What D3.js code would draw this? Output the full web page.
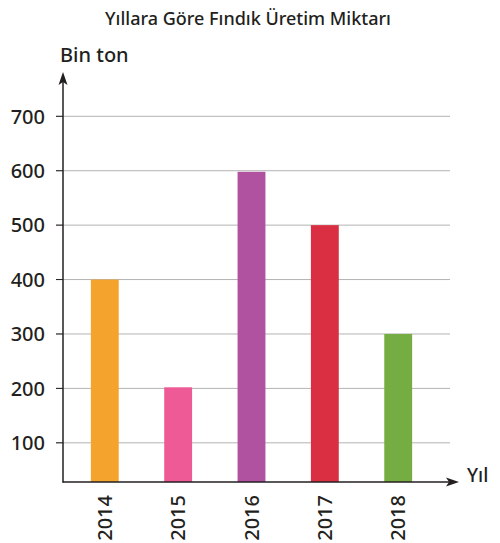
<!DOCTYPE html>
<html>
<head>
<meta charset="utf-8">
<script src="https://cdn.jsdelivr.net/npm/d3@7"></script>
<style>
  body { margin: 0; background: #fff; }
  svg text { font-family: "Noto Sans", sans-serif; fill: #231f20; }
</style>
</head>
<body>
<div class="chart"></div>
<script>
// data
const years = ["2014", "2015", "2016", "2017", "2018"];
const production = [400, 202, 598, 500, 300];
const barColors = ["#f4a42c", "#ee5a95", "#b052a0", "#da2f42", "#76ad43"];
const yTicks = [100, 200, 300, 400, 500, 600, 700];

const width = 500, height = 543;

const svg = d3.select(".chart")
    .append("svg")
    .attr("width", width)
    .attr("height", height);

// axis base sits a little above zero, like the original
const xScale = d3.scaleBand()
    .domain(years)
    .range([63, 440])
    .paddingInner(0.62)
    .paddingOuter(0.38);

const yScale = d3.scaleLinear()
    .domain([28, 700])
    .range([482, 116.3]);

const axisX0 = 63, axisY0 = yScale.range()[0];

// grid lines
svg.append("g")
    .selectAll("line")
    .data(yTicks)
    .join("line")
    .attr("x1", axisX0 - 7)
    .attr("x2", 450)
    .attr("y1", d => yScale(d))
    .attr("y2", d => yScale(d))
    .attr("stroke", "#b3b3b3")
    .attr("stroke-width", 1);

// tick marks
svg.append("g")
    .selectAll("line")
    .data(yTicks)
    .join("line")
    .attr("x1", axisX0 - 7)
    .attr("x2", axisX0)
    .attr("y1", d => yScale(d))
    .attr("y2", d => yScale(d))
    .attr("stroke", "#231f20")
    .attr("stroke-width", 1);

// tick labels
svg.append("g")
    .selectAll("text")
    .data(yTicks)
    .join("text")
    .attr("x", 45)
    .attr("y", d => yScale(d))
    .attr("dy", "0.36em")
    .attr("text-anchor", "end")
    .style("font-size", "20px")
    .style("font-weight", 500)
    .text(d => d);

// bars
svg.append("g")
    .selectAll("rect")
    .data(years)
    .join("rect")
    .attr("x", d => xScale(d))
    .attr("width", xScale.bandwidth())
    .attr("y", (d, i) => yScale(production[i]))
    .attr("height", (d, i) => axisY0 - yScale(production[i]))
    .attr("fill", (d, i) => barColors[i]);

// year labels (rotated)
svg.append("g")
    .selectAll("text")
    .data(years)
    .join("text")
    .attr("transform", d => `translate(${xScale(d) + xScale.bandwidth() / 2 + 7},495) rotate(-90)`)
    .attr("text-anchor", "end")
    .style("font-size", "20px")
    .style("font-weight", 500)
    .text(d => d);

// axes with arrows
svg.append("line")
    .attr("x1", axisX0).attr("x2", axisX0)
    .attr("y1", axisY0 + 0.5).attr("y2", 80)
    .attr("stroke", "#231f20").attr("stroke-width", 1.5);
svg.append("path")
    .attr("d", `M${axisX0},72 L${axisX0 + 4.5},85 L${axisX0},82 L${axisX0 - 4.5},85 Z`)
    .attr("fill", "#231f20");

svg.append("line")
    .attr("x1", axisX0 - 0.5).attr("x2", 450)
    .attr("y1", axisY0).attr("y2", axisY0)
    .attr("stroke", "#231f20").attr("stroke-width", 1.5);
svg.append("path")
    .attr("d", `M459,${axisY0} L446,${axisY0 - 4.5} L449,${axisY0} L446,${axisY0 + 4.5} Z`)
    .attr("fill", "#231f20");

// titles
svg.append("text")
    .attr("x", 248).attr("y", 25)
    .attr("text-anchor", "middle")
    .style("font-size", "18px")
    .style("font-weight", 500)
    .text("Yıllara Göre Fındık Üretim Miktarı");

svg.append("text")
    .attr("x", 60).attr("y", 62)
    .style("font-size", "20px")
    .style("font-weight", 500)
    .text("Bin ton");

svg.append("text")
    .attr("x", 467).attr("y", 482)
    .style("font-size", "19px")
    .style("font-weight", 500)
    .text("Yıl");
</script>
</body>
</html>
